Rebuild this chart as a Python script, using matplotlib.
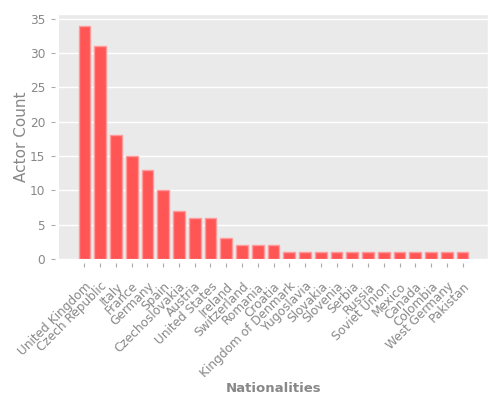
import numpy as np
import matplotlib
matplotlib.use('Agg')
import matplotlib.pyplot as plt

plt.style.use('ggplot')

nationalities = ['United Kingdom', 'Czech Republic', 'Italy', 'France', 'Germany', 'Spain',
                 'Czechoslovakia', 'Austria', 'United States', 'Ireland', 'Switzerland',
                 'Romania', 'Croatia', 'Kingdom of Denmark', 'Yugoslavia', 'Slovakia',
                 'Slovenia', 'Serbia', 'Russia', 'Soviet Union', 'Mexico', 'Canada',
                 'Colombia', 'West Germany', 'Pakistan']
counts = [34, 31, 18, 15, 13, 10, 7, 6, 6, 3, 2, 2, 2, 1, 1, 1, 1, 1, 1, 1, 1, 1, 1, 1, 1]

fig, ax = plt.subplots(figsize=(5, 4), dpi=100)
fig.subplots_adjust(left=0.118, right=0.976, top=0.965, bottom=0.3525)
ax.set_facecolor('#eaeaea')
ax.grid(axis='x', visible=False)
ax.grid(axis='y', color='white', linewidth=1)
for s in ['left', 'bottom']:
    ax.spines[s].set_position(('outward', 3))
    ax.spines[s].set_visible(False)

x = np.arange(len(nationalities))
ax.bar(x, counts, width=0.75, color='#ff5555', edgecolor='#ff9a9a', linewidth=1)
ax.set_xticks(x)
ax.set_xticklabels(nationalities, rotation=45, ha='right', va='top', rotation_mode='anchor',
                   fontsize=8.7, color='#888888')
ax.set_yticks([0, 5, 10, 15, 20, 25, 30, 35])
ax.tick_params(colors='#aaaaaa', length=3, width=0.8)
ax.tick_params(axis='y', labelsize=8.7, labelcolor='#888888', pad=4)
ax.tick_params(axis='x', labelcolor='#888888', pad=9)
ax.set_ylabel('Actor Count', fontsize=11, color='#888888')
ax.set_xlabel('Nationalities', fontsize=9.5, color='#888888', fontweight='bold')
ax.yaxis.set_label_coords(-0.069, 0.5)
ax.xaxis.set_label_coords(0.5, -0.5)

fig.savefig('out.png', dpi=100)
